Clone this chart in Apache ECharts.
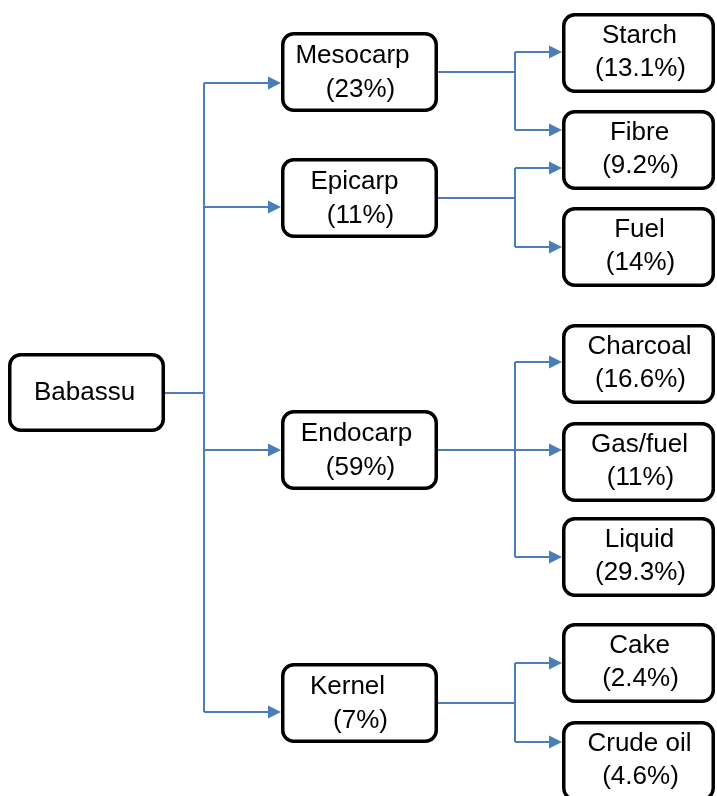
<!DOCTYPE html>
<html>
<head>
<meta charset="utf-8">
<script src="https://cdn.jsdelivr.net/npm/echarts@6/dist/echarts.min.js"></script>
<style>
  html, body { margin: 0; padding: 0; background: #fff; }
  #chart { width: 717px; height: 796px; }
</style>
</head>
<body>
<div id="chart"></div>
<script>
// Data: babassu fruit fractions and their products (%)
const rootName = "Babassu";
const parts = ["Mesocarp", "Epicarp", "Endocarp", "Kernel"];
const partShares = [23, 11, 59, 7];
const products = ["Starch", "Fibre", "Fuel", "Charcoal", "Gas/fuel", "Liquid", "Cake", "Crude oil"];
const productShares = [13.1, 9.2, 14, 16.6, 11, 29.3, 2.4, 4.6];
// which products each part feeds (index into products)
const partOutputs = [[0, 1], [1, 2], [3, 4, 5], [6, 7]];

// Layout (pixel units of the hidden axes)
const ROOT_BOX = { x: 8, y: 353, w: 157, h: 79 };
const PART_X = 281, PART_W = 157, PART_H = 80;
const partTop = [32, 158, 410, 663];
const partEntryY = [83, 207, 450, 712];
const partLine1Dx = [-7, -5, -3, -12];
const TRUNK_X = 204;
const PROD_X = 562, PROD_W = 153, PROD_H = 80;
const productTop = [13, 110, 207, 324, 422, 517, 623, 721];
const BRANCH_X = 515;
const linkEntryY = [[52, 130], [168, 247], [362, 450, 557], [663, 742]];

const LINE_COLOR = "#4a7ebb";
const ARROW = 13;
const BORDER = 3.5;
const FONT = '26px "Liberation Sans", Arial, sans-serif';

const fmt = v => "(" + v + "%)";

// boxes
const boxes = [];
boxes.push({ x: ROOT_BOX.x, y: ROOT_BOX.y, w: ROOT_BOX.w, h: ROOT_BOX.h,
  lines: [{ t: rootName, dx: -2, dy: 40 }] });
parts.forEach((name, i) => {
  boxes.push({ x: PART_X, y: partTop[i], w: PART_W, h: PART_H,
    lines: [{ t: name, dx: partLine1Dx[i], dy: 24 }, { t: fmt(partShares[i]), dx: 1, dy: 58 }] });
});
products.forEach((name, i) => {
  boxes.push({ x: PROD_X, y: productTop[i], w: PROD_W, h: PROD_H,
    lines: [{ t: name, dx: 1, dy: 23 }, { t: fmt(productShares[i]), dx: 2, dy: 56 }] });
});

// connectors
const plainSegs = [];
const arrowSegs = [];
const rootMidY = ROOT_BOX.y + ROOT_BOX.h / 2;
plainSegs.push({ coords: [[ROOT_BOX.x + ROOT_BOX.w, rootMidY], [TRUNK_X, rootMidY]] });
plainSegs.push({ coords: [[TRUNK_X, Math.min(...partEntryY)], [TRUNK_X, Math.max(...partEntryY)]] });
partEntryY.forEach(y => {
  arrowSegs.push({ coords: [[TRUNK_X, y], [PART_X - ARROW / 2, y]] });
});
partOutputs.forEach((outs, i) => {
  const midY = partTop[i] + PART_H / 2;
  const ys = linkEntryY[i];
  plainSegs.push({ coords: [[PART_X + PART_W, midY], [BRANCH_X, midY]] });
  plainSegs.push({ coords: [[BRANCH_X, Math.min(...ys)], [BRANCH_X, Math.max(...ys)]] });
  outs.forEach((p, k) => {
    arrowSegs.push({ coords: [[BRANCH_X, ys[k]], [PROD_X - ARROW / 2, ys[k]]] });
  });
});

function renderBox(params, api) {
  const b = boxes[params.dataIndex];
  const p0 = api.coord([b.x, b.y]);
  const p1 = api.coord([b.x + b.w, b.y + b.h]);
  const cx = (p0[0] + p1[0]) / 2;
  const children = [{
    type: "rect",
    shape: { x: p0[0] + BORDER / 2, y: p0[1] + BORDER / 2,
      width: p1[0] - p0[0] - BORDER, height: p1[1] - p0[1] - BORDER, r: 11 },
    style: { fill: "#fff", stroke: "#000", lineWidth: BORDER }
  }];
  b.lines.forEach(l => {
    children.push({
      type: "text",
      x: cx + l.dx,
      y: p0[1] + l.dy,
      style: { text: l.t, font: FONT, fill: "#000", align: "center", verticalAlign: "middle" }
    });
  });
  return { type: "group", children: children };
}

const chart = echarts.init(document.getElementById("chart"));
chart.setOption({
  animation: false,
  grid: { left: 0, right: 0, top: 0, bottom: 0 },
  xAxis: { type: "value", min: 0, max: 717, show: false },
  yAxis: { type: "value", min: 0, max: 796, inverse: true, show: false },
  series: [
    {
      type: "lines",
      coordinateSystem: "cartesian2d",
      silent: true,
      symbol: ["none", "none"],
      lineStyle: { color: LINE_COLOR, width: 2, opacity: 1 },
      data: plainSegs,
      z: 1
    },
    {
      type: "lines",
      coordinateSystem: "cartesian2d",
      silent: true,
      symbol: ["none", "triangle"],
      symbolSize: ARROW,
      lineStyle: { color: LINE_COLOR, width: 2, opacity: 1 },
      data: arrowSegs,
      z: 1
    },
    {
      type: "custom",
      coordinateSystem: "cartesian2d",
      silent: true,
      renderItem: renderBox,
      data: boxes.map(b => [b.x, b.y]),
      z: 2
    }
  ]
});
window.addEventListener("resize", () => chart.resize());
</script>
</body>
</html>
